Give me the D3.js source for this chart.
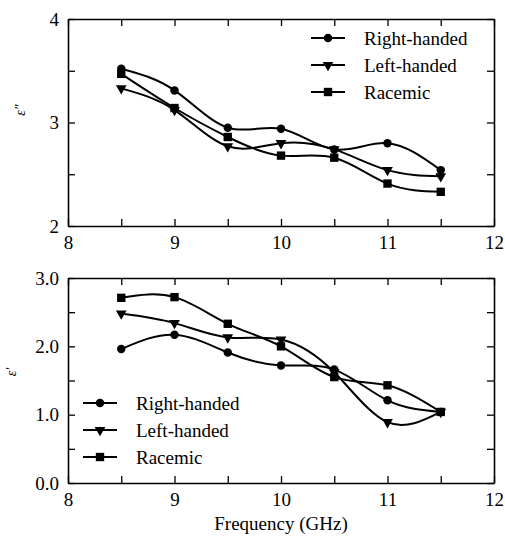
<!DOCTYPE html>
<html>
<head>
<meta charset="utf-8">
<script src="https://cdn.jsdelivr.net/npm/d3@7"></script>
</head>
<body style="margin:0">
<svg id="permittivity" width="505" height="544"></svg>
<script>
// Measured frequencies (GHz)
const frequencies = [8.5, 9, 9.5, 10, 10.5, 11, 11.5];

// Imaginary part of permittivity, ε″
const lossRight   = [3.52, 3.31, 2.95, 2.94, 2.74, 2.80, 2.54];
const lossLeft    = [3.33, 3.12, 2.77, 2.80, 2.74, 2.54, 2.48];
const lossRacemic = [3.47, 3.14, 2.86, 2.68, 2.66, 2.41, 2.33];

// Real part of permittivity, ε′
const permRight   = [1.96, 2.17, 1.91, 1.72, 1.66, 1.21, 1.04];
const permLeft    = [2.48, 2.34, 2.13, 2.10, 1.62, 0.89, 1.04];
const permRacemic = [2.71, 2.72, 2.33, 2.00, 1.55, 1.43, 1.04];

const seriesNames = ["Right-handed", "Left-handed", "Racemic"];
const xTickLabels = [8, 9, 10, 11, 12];
const lossTickLabels = [2, 3, 4];
const permTickLabels = [0.0, 1.0, 2.0, 3.0];

const svg = d3.select("#permittivity");
const FONT = 19;

// serif face for every text element
function serif(sel, size) {
  return sel.style("font-family", '"Liberation Serif"').style("font-size", size + "px");
}

const symbols = [
  d3.symbol().type(d3.symbolCircle).size(56),
  d3.symbol().type(d3.symbolTriangle).size(50),
  d3.symbol().type(d3.symbolSquare).size(70)
];
// triangles point down
const symbolRotate = [0, 180, 0];

function drawPanel(opt) {
  const { left, right, top, bottom, yDomain, yStep, yLabels, yFormat, series, yTitle, titleX, titleY, legend } = opt;
  const x = d3.scaleLinear().domain([8, 12]).range([left, right]);
  const y = d3.scaleLinear().domain(yDomain).range([bottom, top]);
  const g = svg.append("g");

  const xTicks = d3.range(8, 12.001, 0.5);
  const yTicks = d3.range(yDomain[0], yDomain[1] + 1e-6, yStep);
  const xFmt = d => xTickLabels.includes(d) ? String(d) : "";
  const yFmt = d => yLabels.some(v => Math.abs(v - d) < 1e-6) ? yFormat(d) : "";

  const styleAxis = sel => {
    sel.attr("font-family", null).attr("font-size", null);
    sel.selectAll(".domain").attr("stroke", "#000").attr("stroke-width", 1.6);
    sel.selectAll(".tick line").attr("stroke", "#000").attr("stroke-width", 1.3);
    sel.selectAll(".tick text").call(serif, FONT).attr("fill", "#000");
  };

  g.append("g").attr("transform", `translate(0,${bottom})`)
    .call(d3.axisBottom(x).tickValues(xTicks).tickFormat(xFmt).tickSizeInner(-7).tickSizeOuter(0).tickPadding(10))
    .call(styleAxis);
  g.append("g").attr("transform", `translate(0,${top})`)
    .call(d3.axisTop(x).tickValues(xTicks).tickFormat("").tickSizeInner(-7).tickSizeOuter(0))
    .call(styleAxis);
  g.append("g").attr("transform", `translate(${left},0)`)
    .call(d3.axisLeft(y).tickValues(yTicks).tickFormat(yFmt).tickSizeInner(-7).tickSizeOuter(0).tickPadding(9))
    .call(styleAxis);
  g.append("g").attr("transform", `translate(${right},0)`)
    .call(d3.axisRight(y).tickValues(yTicks).tickFormat("").tickSizeInner(-7).tickSizeOuter(0))
    .call(styleAxis);

  const line = d3.line().x(d => x(d[0])).y(d => y(d[1])).curve(d3.curveNatural);

  series.forEach((vals, i) => {
    const pts = frequencies.map((f, k) => [f, vals[k]]);
    g.append("path").datum(pts)
      .attr("d", line).attr("fill", "none").attr("stroke", "#000").attr("stroke-width", 2);
    g.selectAll(null).data(pts).enter().append("path")
      .attr("d", symbols[i])
      .attr("transform", d => `translate(${x(d[0])},${y(d[1])}) rotate(${symbolRotate[i]})`)
      .attr("fill", "#000");
  });

  // y-axis title
  g.append("text")
    .attr("transform", `translate(${titleX},${titleY}) rotate(-90)`)
    .attr("text-anchor", "middle")
    .call(serif, 14).style("font-style", "italic")
    .text(yTitle);

  // legend
  seriesNames.forEach((name, i) => {
    const ly = legend.y + i * legend.dy;
    g.append("line").attr("x1", legend.x).attr("x2", legend.x + 34)
      .attr("y1", ly).attr("y2", ly).attr("stroke", "#000").attr("stroke-width", 2);
    g.append("path").attr("d", symbols[i])
      .attr("transform", `translate(${legend.x + 17},${ly}) rotate(${symbolRotate[i]})`)
      .attr("fill", "#000");
    g.append("text").attr("x", legend.tx).attr("y", ly).attr("dy", "0.35em")
      .call(serif, FONT).text(name);
  });
}

drawPanel({
  left: 68, right: 494, top: 19, bottom: 226,
  yDomain: [2, 4], yStep: 0.5, yLabels: lossTickLabels, yFormat: d3.format("d"),
  series: [lossRight, lossLeft, lossRacemic],
  yTitle: "ε″", titleX: 25, titleY: 110,
  legend: { x: 311, y: 38, dy: 27, tx: 364 }
});

drawPanel({
  left: 68, right: 494, top: 278, bottom: 483,
  yDomain: [0, 3], yStep: 0.5, yLabels: permTickLabels, yFormat: d3.format(".1f"),
  series: [permRight, permLeft, permRacemic],
  yTitle: "ε′", titleX: 16, titleY: 372,
  legend: { x: 83, y: 403, dy: 27, tx: 136 }
});

svg.append("text")
  .attr("x", 281).attr("y", 530)
  .attr("text-anchor", "middle")
  .call(serif, FONT)
  .text("Frequency (GHz)");
</script>
</body>
</html>
